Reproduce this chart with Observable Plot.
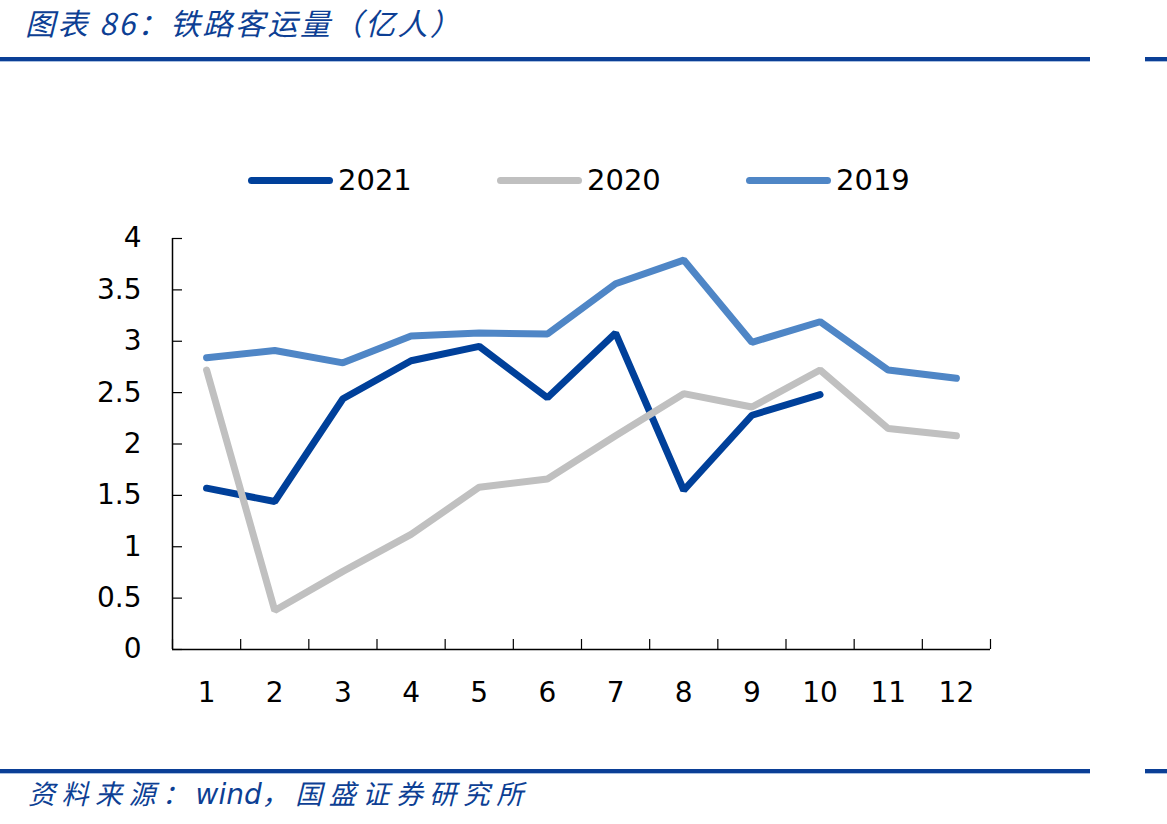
<!DOCTYPE html>
<html>
<head>
<meta charset="utf-8">
<script src="https://cdn.jsdelivr.net/npm/d3@7"></script>
<script src="https://cdn.jsdelivr.net/npm/@observablehq/plot@0.6"></script>
<style>
  html, body { margin: 0; padding: 0; background: #fff; }
  body { width: 1167px; height: 824px; position: relative; overflow: hidden; font-family: "DejaVu Sans", sans-serif; }
  .title { position: absolute; left: 25px; top: 1px; font-family: "Noto Sans CJK SC", sans-serif; font-style: italic; font-size: 30px; letter-spacing: 2.5px; color: #0d3f94; line-height: 42px; white-space: nowrap; }
  .footer { position: absolute; left: 28px; top: 773px; font-family: "Noto Sans CJK SC", sans-serif; font-style: italic; font-size: 27px; letter-spacing: 6.5px; color: #0d3f94; line-height: 40px; white-space: nowrap; }
  .footer .w { letter-spacing: 0; font-family: "DejaVu Sans", sans-serif; font-size: 28px; }
  .rule { position: absolute; height: 4px; background: #0b3f96; border-bottom: 1px solid #a9bfe0; }
  .legend { position: absolute; top: 160px; left: 0; width: 1167px; height: 40px; }
  .li { position: absolute; top: 0; height: 40px; display: flex; align-items: center; font-family: "DejaVu Sans", sans-serif; font-size: 29px; color: #000; }
  .sw { width: 85px; height: 7px; border-radius: 4px; margin-right: 5px; }
  #chart { position: absolute; left: 0; top: 220px; }
</style>
</head>
<body>
<div class="title">图表 86：铁路客运量（亿人）</div>
<div class="rule" style="left:0;top:57px;width:1090px;"></div>
<div class="rule" style="left:1145px;top:57px;width:22px;"></div>
<div class="rule" style="left:0;top:769px;width:1090px;"></div>
<div class="rule" style="left:1145px;top:769px;width:22px;"></div>
<div class="legend" id="legend"></div>
<div id="chart"></div>
<div class="footer">资料来源：<span class="w">wind</span>，国盛证券研究所</div>
<script>
const months = [1,2,3,4,5,6,7,8,9,10,11,12];
const seriesNames = ["2021", "2020", "2019"];
const seriesColors = ["#00409a", "#c0c0c0", "#4f86c6"];
const values2021 = [1.57, 1.44, 2.44, 2.81, 2.95, 2.45, 3.08, 1.55, 2.28, 2.48];
const values2020 = [2.72, 0.38, 0.76, 1.12, 1.58, 1.66, 2.08, 2.49, 2.36, 2.72, 2.15, 2.08];
const values2019 = [2.84, 2.91, 2.79, 3.05, 3.08, 3.07, 3.56, 3.79, 2.99, 3.19, 2.72, 2.64];
const yTicks = [0, 0.5, 1, 1.5, 2, 2.5, 3, 3.5, 4];
const yTickLabels = ["0", "0.5", "1", "1.5", "2", "2.5", "3", "3.5", "4"];
const xBoundaries = [0.5,1.5,2.5,3.5,4.5,5.5,6.5,7.5,8.5,9.5,10.5,11.5,12.5];

const allSeries = [values2021, values2020, values2019];
const data = [];
allSeries.forEach((vals, s) => {
  vals.forEach((v, i) => data.push({series: seriesNames[s], month: months[i], value: v}));
});

const chart = Plot.plot({
  width: 1167,
  height: 490,
  marginLeft: 172,
  marginRight: 177,
  marginTop: 18,
  marginBottom: 61,
  style: {fontFamily: "DejaVu Sans, sans-serif", fontSize: "28px", color: "#000", background: "#fff"},
  x: {type: "linear", domain: [0.5, 12.5], label: null},
  y: {domain: [0, 4], label: null},
  color: {domain: seriesNames, range: seriesColors},
  marks: [
    Plot.ruleY([0], {stroke: "#000", strokeWidth: 1.5}),
    Plot.ruleX([0.5], {y1: 0, y2: 4, stroke: "#000", strokeWidth: 1.5}),
    Plot.ruleX(xBoundaries, {y1: 0, y2: 0, insetTop: -10, stroke: "#000", strokeWidth: 1.2}),
    Plot.ruleY(yTicks, {x1: 0.5, x2: 0.5, insetRight: -10, stroke: "#000", strokeWidth: 1.2}),
    Plot.axisY({ticks: yTicks, tickFormat: d => yTickLabels[yTicks.indexOf(d)], tickSize: 0, tickPadding: 31, fontSize: 28, label: null}),
    Plot.axisX({ticks: months, tickFormat: d => String(d), tickSize: 0, tickPadding: 33, fontSize: 28, label: null}),
    Plot.line(data, {x: "month", y: "value", z: "series", stroke: "series", strokeWidth: 7, strokeLinecap: "round", strokeLinejoin: "miter"})
  ]
});
document.getElementById("chart").appendChild(chart);

const legend = document.getElementById("legend");
const legendLeft = [248, 497, 746];
seriesNames.forEach((name, i) => {
  const item = document.createElement("div");
  item.className = "li";
  item.style.left = legendLeft[i] + "px";
  const sw = document.createElement("div");
  sw.className = "sw";
  sw.style.background = seriesColors[i];
  item.appendChild(sw);
  const t = document.createElement("span");
  t.textContent = name;
  item.appendChild(t);
  legend.appendChild(item);
});
</script>
</body>
</html>
